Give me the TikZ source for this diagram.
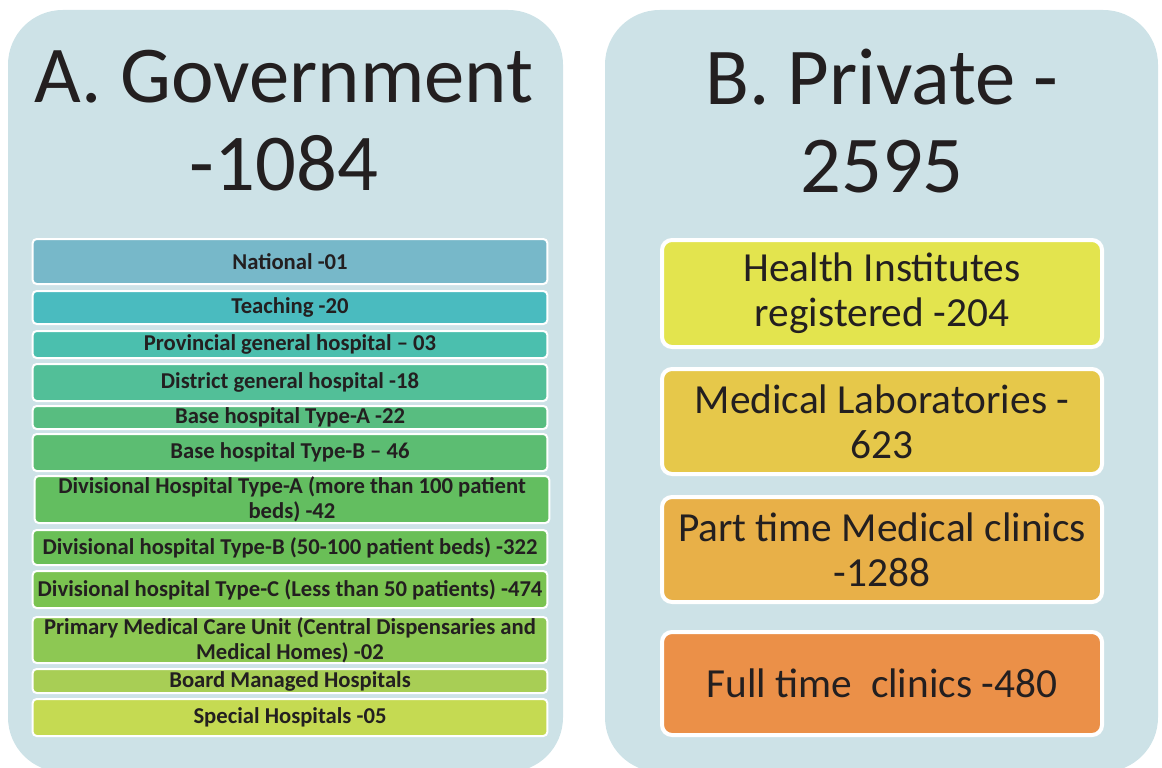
\documentclass[tikz,border=0pt]{standalone}
\usepackage{fontspec}
\setmainfont{Carlito}
\usepackage{xcolor}
\usepackage{tikz}

\definecolor{panelbg}{HTML}{CDE2E7}
\definecolor{inktext}{HTML}{231F20}
\definecolor{gNational}{HTML}{77B8C9}
\definecolor{gTeaching}{HTML}{4ABBBF}
\definecolor{gProvince}{HTML}{4BBFAE}
\definecolor{gDistrict}{HTML}{52BF98}
\definecolor{gBaseA}{HTML}{58BD80}
\definecolor{gBaseB}{HTML}{5CBD72}
\definecolor{gDivA}{HTML}{63BE60}
\definecolor{gDivB}{HTML}{6ABF57}
\definecolor{gDivC}{HTML}{7AC350}
\definecolor{gPrimary}{HTML}{8DC853}
\definecolor{gBoard}{HTML}{A8CE55}
\definecolor{gSpecial}{HTML}{C5DA52}
\definecolor{pInst}{HTML}{E3E44E}
\definecolor{pLab}{HTML}{E6C84A}
\definecolor{pPart}{HTML}{E8B048}
\definecolor{pFull}{HTML}{EB9048}

\begin{document}
\begin{tikzpicture}[x=0.75pt,y=-0.75pt,
    title/.style={align=center, inner sep=0pt, text=inktext,
        font=\fontsize{60.5}{66}\selectfont},
    govbox/.style={fill=#1, draw=white, line width=1.5pt, rounded corners=3pt,
        minimum width=386pt, inner sep=0pt, align=center, text=inktext,
        font=\bfseries\fontsize{17}{18.5}\selectfont},
    pvtbox/.style={fill=#1, draw=white, line width=3pt, rounded corners=7.5pt,
        minimum width=330pt, inner sep=0pt, align=center, text=inktext,
        font=\fontsize{31}{34}\selectfont}]
    \useasboundingbox (0,0) rectangle (1162,767);

    % Panels
    \fill[panelbg, rounded corners=41pt] (8,10) rectangle (563,772);
    \fill[panelbg, rounded corners=41pt] (605,10) rectangle (1158,772);

    % A. Government
    \node[title] (govtitle) at (284,121) {A. Government\\-1084};
    \node[govbox=gNational, minimum height=33.75pt] (national) at (290,261.5) {National -01};
    \node[govbox=gTeaching, minimum height=24.75pt] (teaching) at (290,307.5) {Teaching -20};
    \node[govbox=gProvince, minimum height=20.25pt] (province) at (290,344.5) {Provincial general hospital -- 03};
    \node[govbox=gDistrict, minimum height=27.75pt] (district) at (290,382.5) {District general hospital -18};
    \node[govbox=gBaseA, minimum height=17.25pt] (baseA) at (290,417.5) {Base hospital Type-A -22};
    \node[govbox=gBaseB, minimum height=27.75pt] (baseB) at (290,452.5) {Base hospital Type-B -- 46};
    \node[govbox=gDivA, minimum height=35.25pt] (divA) at (292,499.5) {Divisional Hospital Type-A (more than 100 patient\\beds) -42};
    \node[govbox=gDivB, minimum height=26.25pt] (divB) at (290,547.5) {Divisional hospital Type-B (50-100 patient beds) -322};
    \node[govbox=gDivC, minimum height=27.75pt] (divC) at (290,589.5) {Divisional hospital Type-C (Less than 50 patients) -474};
    \node[govbox=gPrimary, minimum height=34.5pt] (primary) at (290,640) {Primary Medical Care Unit (Central Dispensaries and\\Medical Homes) -02};
    \node[govbox=gBoard, minimum height=18pt] (board) at (290,681) {Board Managed Hospitals};
    \node[govbox=gSpecial, minimum height=27.75pt] (special) at (290,717.5) {Special Hospitals -05};

    % B. Private
    \node[title] (pvttitle) at (882,121) {B. Private -\\2595};
    \node[pvtbox=pInst, minimum height=80.25pt] (institutes) at (882,293.5) {Health Institutes\\registered -204};
    \node[pvtbox=pLab, minimum height=78.75pt] (labs) at (882,421.5) {Medical Laboratories -\\623};
    \node[pvtbox=pPart, minimum height=78.75pt] (parttime) at (882,549.5) {Part time Medical clinics\\-1288};
    \node[pvtbox=pFull, minimum height=77.25pt] (fulltime) at (882,683.5) {Full time~ clinics -480};
\end{tikzpicture}
\end{document}
